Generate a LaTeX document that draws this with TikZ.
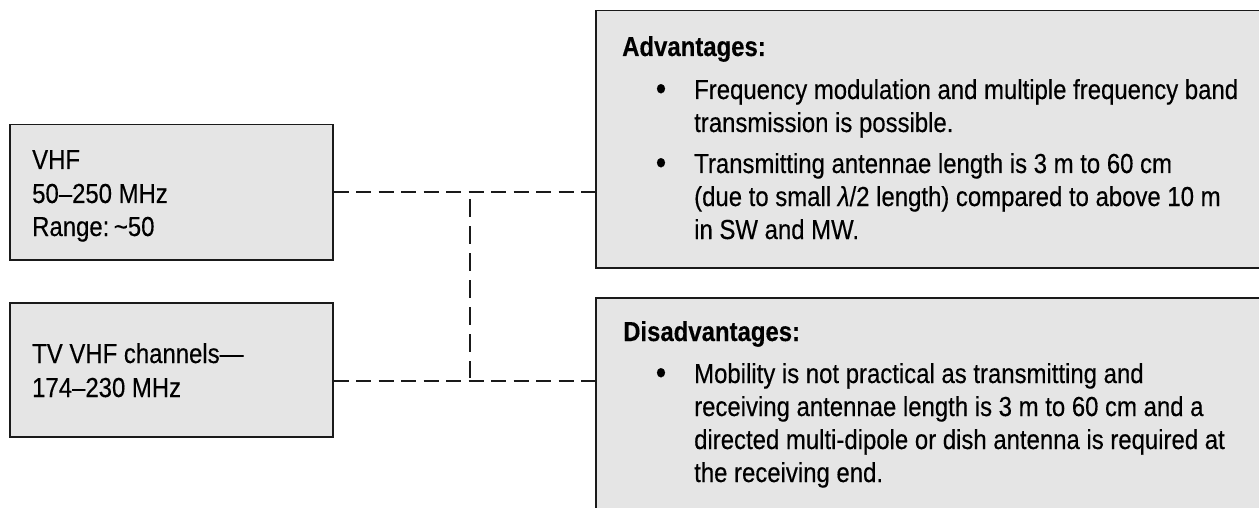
\documentclass[tikz,border=0pt]{standalone}
\usepackage{fontspec}
\setmainfont{Liberation Sans}[FakeStretch=0.87, UprightFeatures={FakeBold=0.35}, ItalicFeatures={FakeBold=0.35}, BoldFeatures={FakeBold=0.3}]
\definecolor{boxgray}{HTML}{E5E5E5}
\definecolor{edge}{HTML}{1A1A1A}

\begin{document}
\begin{tikzpicture}[x=1pt,y=-1pt,
  panel/.style={draw=edge, line width=1.5pt, fill=boxgray, rectangle,
                inner sep=0pt, anchor=north west},
  txt/.style={anchor=base west, inner sep=0pt, font=\fontsize{27.5}{33}\selectfont},
  dot/.style={anchor=base, inner sep=0pt, font=\fontsize{34}{33}\selectfont},
  link/.style={draw=edge, line width=1.5pt, dash pattern=on 15pt off 7.5pt},
  riser/.style={draw=edge, line width=1.5pt, dash pattern=on 18pt off 9pt}]

\useasboundingbox (0,0) rectangle (1259,508);
\clip (0,0) rectangle (1259,508);

% left boxes
\node[panel, minimum width=323pt, minimum height=135pt] (vhf) at (9,124) {};
\node[panel, minimum width=323pt, minimum height=134pt] (tv) at (9,302) {};

% right boxes (running off the page edges)
\node[panel, minimum width=680pt, minimum height=257pt] (adv) at (595,10) {};
\node[panel, minimum width=680pt, minimum height=230pt] (dis) at (595,297) {};

% left box texts
\node[txt] (vhf1) at (32,169) {VHF};
\node[txt] (vhf2) at (32,203) {50–250 MHz};
\node[txt] (vhf3) at (32,236) {Range:\,\textasciitilde50};
\node[txt] (tv1) at (32,363) {TV VHF channels—};
\node[txt] (tv2) at (32,397) {174–230 MHz};

% advantages
\node[txt] (advh) at (622,56) {\textbf{Advantages:}};
\node[dot] (advb1) at (661,100) {\textbullet};
\node[txt] (adv1) at (694,99) {Frequency modulation and multiple frequency band};
\node[txt] (adv2) at (694,132) {transmission is possible.};
\node[dot] (advb2) at (661,174) {\textbullet};
\node[txt] (adv3) at (694,173) {Transmitting antennae length is 3 m to 60 cm};
\node[txt] (adv4) at (694,206) {(due to small {\itshape λ}/2 length) compared to above 10 m};
\node[txt] (adv5) at (694,239) {in SW and MW.};

% disadvantages
\node[txt] (dish) at (623,341) {\textbf{Disadvantages:}};
\node[dot] (disb1) at (661,384) {\textbullet};
\node[txt] (dis1) at (694,383) {Mobility is not practical as transmitting and};
\node[txt] (dis2) at (694,416) {receiving antennae length is 3 m to 60 cm and a};
\node[txt] (dis3) at (694,449) {directed multi-dipole or dish antenna is required at};
\node[txt] (dis4) at (694,482) {the receiving end.};

% dashed connectors
\coordinate (jtop) at (470,199);
\coordinate (jbot) at (470,378);
\coordinate (jlow) at (470,381);
\draw[link] (vhf.east) -- (vhf.east -| adv.west);
\draw[link] (tv.east |- jlow) -- (dis.west |- jlow);
\draw[riser] (jtop) -- (jbot);
\end{tikzpicture}
\end{document}
